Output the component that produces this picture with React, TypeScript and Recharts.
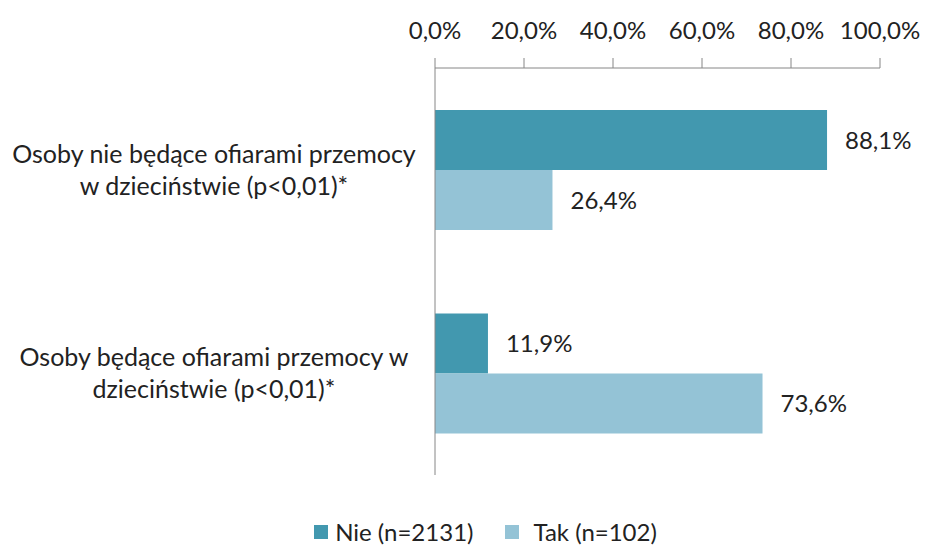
import React from 'react';
import { BarChart, Bar, XAxis, YAxis, LabelList } from 'recharts';

const categories = [
  ['Osoby nie będące ofiarami przemocy', 'w dzieciństwie (p<0,01)*'],
  ['Osoby będące ofiarami przemocy w', 'dzieciństwie (p<0,01)*'],
];
const nieValues = [88.1, 11.9];
const takValues = [26.4, 73.6];
const xTicks = [0, 20, 40, 60, 80, 100];
const seriesNames = ['Nie (n=2131)', 'Tak (n=102)'];
const colors = ['#4298AF', '#94C3D6'];

const data = categories.map((c, i) => ({
  name: c.join('\n'),
  nie: nieValues[i],
  tak: takValues[i],
}));

const FONT = 'Lato, sans-serif';
const fmt = (v: number) => v.toFixed(1).replace('.', ',') + '%';

const YTick = (props: any) => {
  const { y, payload } = props;
  const lines = String(payload.value).split('\n');
  return (
    <text x={214} y={y} textAnchor="middle" fill="#222" fontSize={25} fontFamily={FONT}>
      {lines.map((l, i) => (
        <tspan key={i} x={214} dy={i === 0 ? -7 : 32}>
          {l}
        </tspan>
      ))}
    </text>
  );
};

export default function App() {
  return (
    <div style={{ position: 'absolute', left: 0, top: 0, width: 927, height: 545, background: '#fff', fontFamily: FONT }}>
      <BarChart
        width={927}
        height={545}
        data={data}
        layout="vertical"
        margin={{ top: 0, right: 47, bottom: 70, left: 0 }}
        barGap={0}
        barSize={60}
      >
        <XAxis
          type="number"
          orientation="top"
          domain={[0, 100]}
          ticks={xTicks}
          tickFormatter={fmt}
          height={68}
          stroke="#868686"
          tickSize={10}
          tickMargin={19}
          tick={{ fill: '#222', fontSize: 24, fontFamily: FONT }}
        />
        <YAxis
          type="category"
          dataKey="name"
          width={435}
          stroke="#868686"
          tickLine={false}
          tick={<YTick />}
        />
        <Bar dataKey="nie" fill={colors[0]} isAnimationActive={false}>
          <LabelList dataKey="nie" position="right" offset={18} formatter={(v: any) => fmt(Number(v))} fill="#222" fontSize={24} fontFamily={FONT} />
        </Bar>
        <Bar dataKey="tak" fill={colors[1]} isAnimationActive={false}>
          <LabelList dataKey="tak" position="right" offset={18} formatter={(v: any) => fmt(Number(v))} fill="#222" fontSize={24} fontFamily={FONT} />
        </Bar>
      </BarChart>
      <div style={{ position: 'absolute', left: 22, top: 517, width: 927, display: 'flex', justifyContent: 'center', alignItems: 'center', fontSize: 24, color: '#222', gap: 32 }}>
        {seriesNames.map((n, i) => (
          <div key={n} style={{ display: 'flex', alignItems: 'center' }}>
            <span style={{ display: 'inline-block', width: 14, height: 14, background: colors[i], marginRight: i === 0 ? 7 : 14 }} />
            <span>{n}</span>
          </div>
        ))}
      </div>
    </div>
  );
}
